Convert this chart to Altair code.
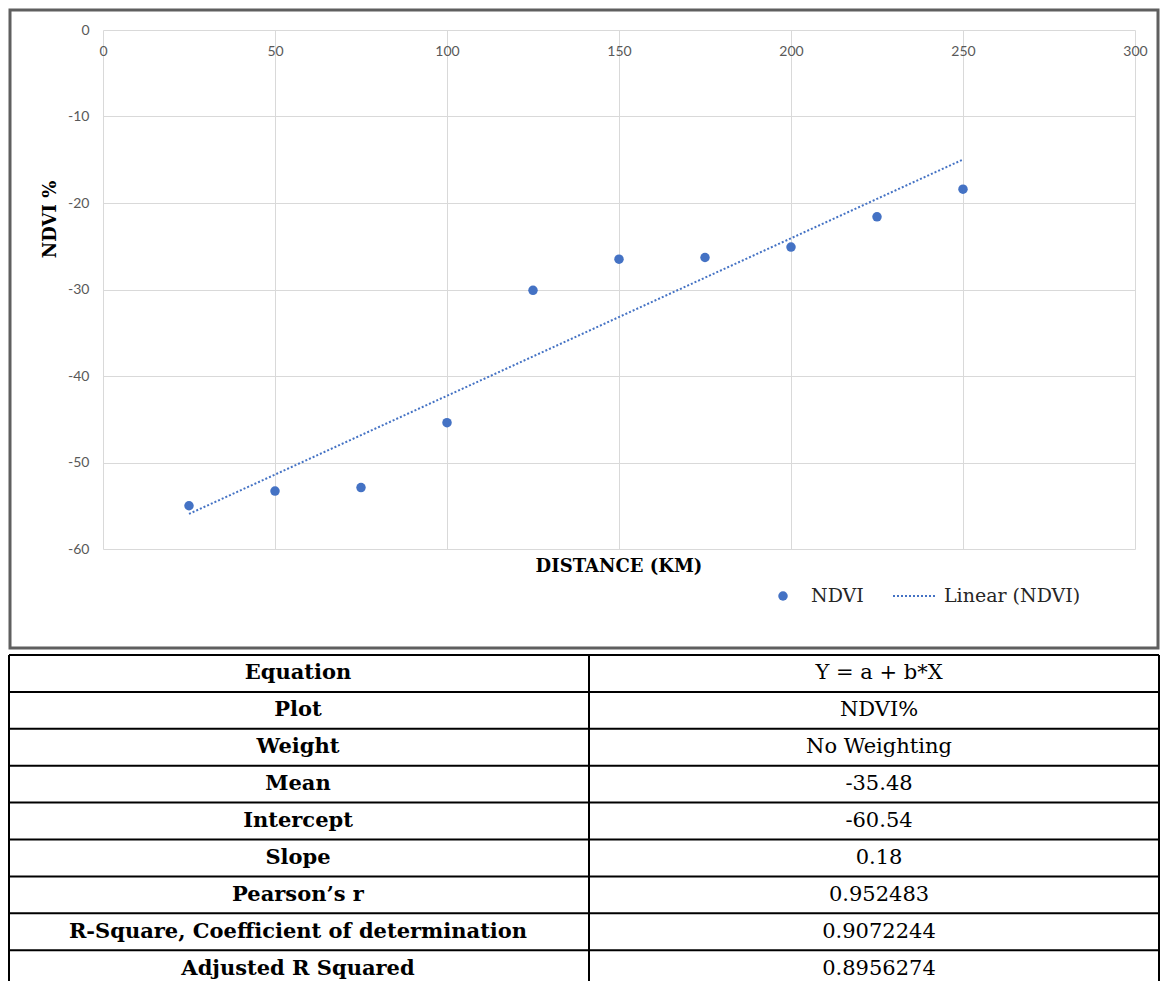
import altair as alt
import pandas as pd

# ---- data ----
distance = [25, 50, 75, 100, 125, 150, 175, 200, 225, 250]
ndvi = [-55.0, -53.3, -52.9, -45.4, -30.1, -26.5, -26.3, -25.1, -21.6, -18.4]
x_ticks = [0, 50, 100, 150, 200, 250, 300]
y_ticks = [-60, -50, -40, -30, -20, -10, 0]
x_title = "DISTANCE (KM)"
y_title = "NDVI %"
series_name = "NDVI"
trend_name = "Linear (NDVI)"
table_params = ["Equation", "Plot", "Weight", "Mean", "Intercept", "Slope",
                "Pearson\u2019s r", "R-Square, Coefficient of determination",
                "Adjusted R Squared"]
table_values = ["Y = a + b*X", "NDVI%", "No Weighting", "-35.48", "-60.54",
                "0.18", "0.952483", "0.9072244", "0.8956274"]

# ---- layout / style ----
W, H = 1032, 519
BLUE = "#4472C4"
GRID = "#d9d9d9"
TICK = "#595959"
SERIF = "DejaVu Serif"
ROW_H = 36.9
TABLE_TOP = 625
RIGHT_EDGE = 1055

df = pd.DataFrame({"distance": distance, "ndvi": ndvi})
xs = alt.Scale(domain=[0, 300], nice=False, zero=False)
ys = alt.Scale(domain=[-60, 0], nice=False, zero=False)

x_axis = alt.Axis(orient="top", values=x_ticks, title=None, ticks=False, tickSize=0,
                  domain=False, grid=True, gridColor=GRID, gridWidth=1,
                  labelBaseline="top", labelPadding=-14, labelFont="Lato",
                  labelFontSize=14, labelColor=TICK, labelFlush=False)
y_axis = alt.Axis(values=y_ticks, title=y_title, ticks=False, tickSize=0, domain=False,
                  grid=True, gridColor=GRID, gridWidth=1, labelPadding=14,
                  labelFont="Lato", labelFontSize=14, labelColor=TICK,
                  labelExpr="'' + datum.value",
                  titleFont=SERIF, titleFontWeight="bold", titleFontSize=18,
                  titleColor="black", titleAngle=270, titleX=-53, titleY=189,
                  titleBaseline="middle", titleAlign="center")

base = alt.Chart(df)
points = base.mark_circle(size=90, color=BLUE, opacity=1).encode(
    x=alt.X("distance:Q", scale=xs, axis=x_axis),
    y=alt.Y("ndvi:Q", scale=ys, axis=y_axis),
)
trend = base.transform_regression("distance", "ndvi").mark_line(
    color=BLUE, strokeWidth=2, strokeDash=[2, 2]
).encode(
    x=alt.X("distance:Q", scale=xs),
    y=alt.Y("ndvi:Q", scale=ys),
)

one = pd.DataFrame({"k": [0]})
frame = alt.Chart(one).mark_rect(fillOpacity=0, stroke="#5f5f5f", strokeWidth=3).encode(
    x=alt.value(-93), x2=alt.value(RIGHT_EDGE), y=alt.value(-20), y2=alt.value(618)
)
xtitle = alt.Chart(pd.DataFrame({"t": [x_title]})).mark_text(
    font=SERIF, fontWeight="bold", fontSize=18, color="black", align="center", baseline="middle"
).encode(text="t:N", x=alt.value(W / 2), y=alt.value(537))

leg_pt = alt.Chart(one).mark_circle(size=90, color=BLUE, opacity=1).encode(
    x=alt.value(680), y=alt.value(566))
leg_line = alt.Chart(one).mark_rule(color=BLUE, strokeWidth=2, strokeDash=[2, 2]).encode(
    x=alt.value(790), x2=alt.value(832), y=alt.value(566))
leg_txt1 = alt.Chart(pd.DataFrame({"t": [series_name]})).mark_text(
    font=SERIF, fontSize=19, color="#262626", align="left", baseline="middle"
).encode(text="t:N", x=alt.value(708), y=alt.value(566))
leg_txt2 = alt.Chart(pd.DataFrame({"t": [trend_name]})).mark_text(
    font=SERIF, fontSize=19, color="#262626", align="left", baseline="middle"
).encode(text="t:N", x=alt.value(841), y=alt.value(566))

plot = alt.layer(frame, trend, points, xtitle, leg_pt, leg_line, leg_txt1, leg_txt2)

# ---- statistics table ----
tdf = pd.DataFrame({"param": table_params, "value": table_values,
                    "row": list(range(len(table_params)))})
tdf["mid"] = tdf["row"] + 0.5
row_scale = alt.Scale(domain=[0, 1], range=[TABLE_TOP, TABLE_TOP + ROW_H], zero=False, nice=False)

tbase = alt.Chart(tdf)
hrules = tbase.mark_rule(color="black", strokeWidth=2).encode(
    y=alt.Y("row:Q", scale=row_scale, axis=None), x=alt.value(-94), x2=alt.value(RIGHT_EDGE + 1))
vr = []
for xv in (-94, 486, RIGHT_EDGE + 1):
    vr.append(alt.Chart(one).mark_rule(color="black", strokeWidth=2).encode(
        x=alt.value(xv), y=alt.value(TABLE_TOP), y2=alt.value(TABLE_TOP + 9 * ROW_H)))
ltext = tbase.mark_text(font=SERIF, fontWeight="bold", fontSize=21, color="black",
                        align="center", baseline="middle").encode(
    y=alt.Y("mid:Q", scale=row_scale, axis=None), x=alt.value(195), text="param:N")
rtext = tbase.mark_text(font=SERIF, fontSize=21, color="black",
                        align="center", baseline="middle").encode(
    y=alt.Y("mid:Q", scale=row_scale, axis=None), x=alt.value(776), text="value:N")

table = alt.layer(hrules, *vr, ltext, rtext)

chart = alt.layer(plot, table).resolve_scale(y="independent").properties(
    width=W, height=H,
    autosize=alt.AutoSizeParams(type="none"),
    padding={"left": 95, "top": 22, "right": 25, "bottom": 441},
    background="white",
).configure_view(stroke=None)

chart.save("out.html", embed_options={"renderer": "svg", "actions": False})
